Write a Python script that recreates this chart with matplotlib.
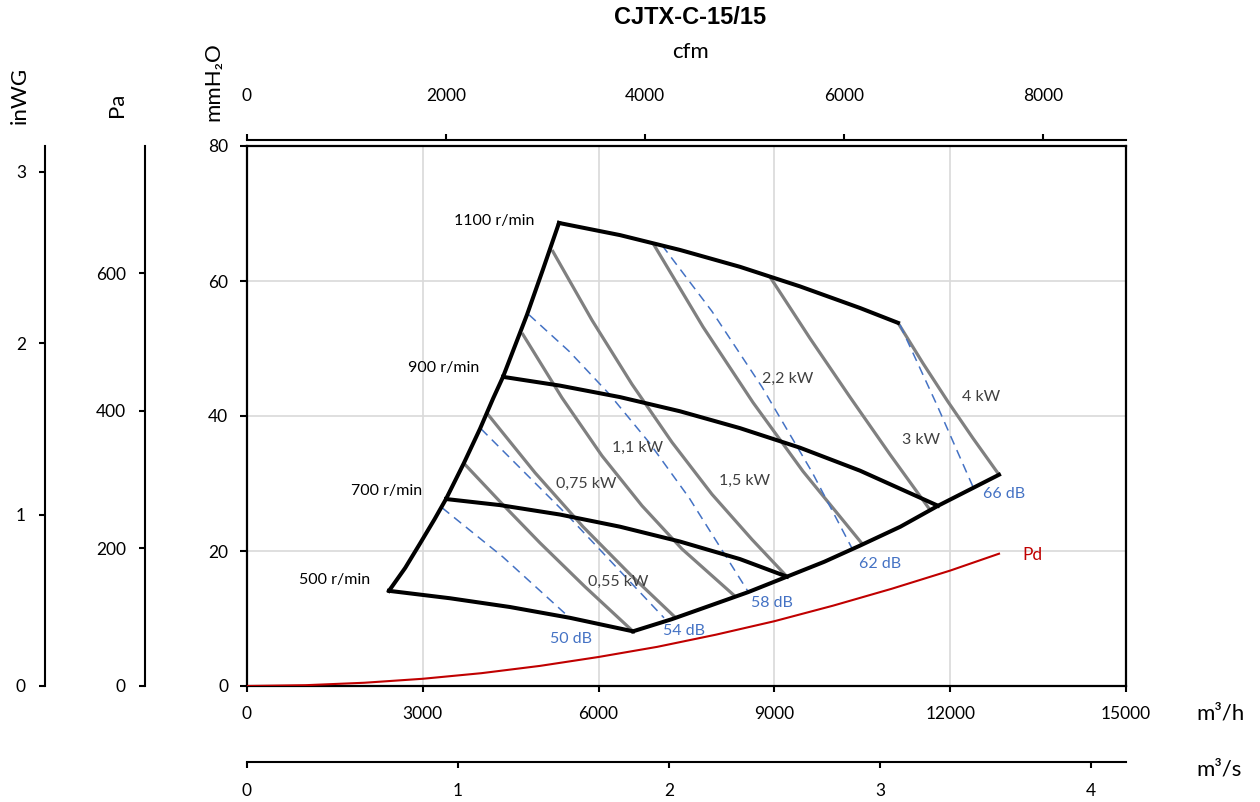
import numpy as np
import matplotlib
matplotlib.use('Agg')
import matplotlib.pyplot as plt

plt.rcParams['font.family'] = ['Lato', 'DejaVu Sans']

# speed curves (m3/h, mmH2O)
n1100_x = [5324, 6365, 7389, 8413, 9437, 10461, 11109]
n1100_y = [68.6, 66.8, 64.6, 62.1, 59.2, 56.0, 53.8]
n900_x = [4369, 5341, 6365, 7389, 8413, 9437, 10461, 11792]
n900_y = [45.8, 44.5, 42.8, 40.7, 38.2, 35.3, 31.9, 26.7]
n700_x = [3396, 4317, 5341, 6365, 7389, 8413, 9215]
n700_y = [27.7, 26.8, 25.4, 23.6, 21.4, 18.8, 16.2]
n500_x = [2423, 3464, 4488, 5512, 6587]
n500_y = [14.1, 13.0, 11.7, 10.1, 8.1]

# limits of the working area
left_x = [2423, 2700, 2952, 3200, 3396, 3700, 3976, 4200, 4369, 4600, 4778, 5050, 5324]
left_y = [14.1, 17.5, 21.1, 24.7, 27.7, 33.0, 38.1, 42.6, 45.8, 51.0, 55.0, 61.7, 68.6]
right_x = [6587, 7250, 7901, 8550, 9215, 9850, 10461, 11150, 11792, 12833]
right_y = [8.1, 9.9, 11.9, 13.9, 16.2, 18.4, 20.8, 23.6, 26.7, 31.3]

# dynamic pressure
pd_x = [0, 1000, 2000, 3000, 4000, 5000, 6000, 7000, 8000, 9000, 10000, 11000, 12000, 12833]
pd_y = [0, 0.12, 0.48, 1.07, 1.9, 2.98, 4.3, 5.8, 7.6, 9.6, 11.9, 14.4, 17.1, 19.6]

# power lines
kw_labels = ['0,55 kW', '0,75 kW', '1,1 kW', '1,5 kW', '2,2 kW', '3 kW', '4 kW']
kw_x = [[3700, 4352, 5000, 5768, 6587],
        [4096, 4915, 5734, 6553, 7304],
        [4693, 5375, 6058, 6741, 7423, 8328],
        [5205, 5887, 6570, 7253, 7935, 8618, 9215],
        [6928, 7782, 8635, 9488, 10495],
        [8925, 9608, 10290, 10973, 11655],
        [11109, 11536, 11963, 12389, 12833]]
kw_y = [[33.0, 27.0, 21.2, 14.7, 8.1],
        [40.4, 31.6, 23.6, 16.4, 10.2],
        [52.3, 42.7, 34.1, 26.7, 20.3, 13.3],
        [64.6, 54.2, 44.7, 36.1, 28.4, 21.7, 16.2],
        [65.6, 53.2, 42.0, 31.8, 21.1],
        [60.6, 51.5, 42.8, 34.3, 26.1],
        [53.8, 47.8, 42.1, 36.7, 31.3]]
kw_lx = [6331, 5785, 6672, 8498, 9232, 11502, 12526]
kw_ly = [15.4, 29.9, 35.3, 30.4, 45.5, 36.4, 42.8]

# sound level lines
db_labels = ['50 dB', '54 dB', '58 dB', '62 dB', '66 dB']
db_x = [[3330, 4369, 5495],
        [3993, 5512, 7116],
        [4812, 5495, 6177, 6860, 7543, 8550],
        [7082, 7935, 8788, 9642, 10324],
        [11143, 11775, 12389]]
db_y = [[26.4, 19.1, 10.2],
        [38.1, 24.9, 10.1],
        [55.0, 49.6, 43.3, 36.1, 27.9, 14.0],
        [65.3, 55.5, 44.3, 31.7, 20.4],
        [53.5, 41.6, 29.5]]
db_lx = [5529, 7457, 8959, 10802, 12918]
db_ly = [7.0, 8.1, 12.3, 18.1, 28.4]

rpm_labels = ['1100 r/min', '900 r/min', '700 r/min', '500 r/min']
rpm_lx = [4215, 3362, 2389, 1502]
rpm_ly = [68.9, 47.1, 28.9, 15.7]

W, H = 1260, 802
fig = plt.figure(figsize=(W / 100, H / 100), dpi=100)
ax = fig.add_axes([247 / W, 116 / H, 879 / W, 540 / H])

ax.set_xlim(0, 15000)
ax.set_ylim(0, 80)
ax.set_xticks(range(0, 15001, 3000))
ax.set_yticks(range(0, 81, 20))
ax.grid(True, color='#d9d9d9', lw=1.2)
ax.set_axisbelow(True)
for s in ax.spines.values():
    s.set_linewidth(1.6)
ax.tick_params(axis='x', direction='out', length=4.3, width=1.5, pad=10, labelsize=12.5)
ax.tick_params(axis='y', direction='out', length=5, width=1.5, pad=8.6, labelsize=12.5)

for xs, ys in zip(kw_x, kw_y):
    ax.plot(xs, ys, color='#808080', lw=2.3, zorder=2, solid_capstyle='butt')
for xs, ys in zip(db_x, db_y):
    ax.plot(xs, ys, color='#4472c4', lw=1.1, dashes=(6, 4), zorder=3)
ax.plot(pd_x, pd_y, color='#c00000', lw=1.5, zorder=3)
for xs, ys in [(n1100_x, n1100_y), (n900_x, n900_y), (n700_x, n700_y),
               (n500_x, n500_y), (left_x, left_y), (right_x, right_y)]:
    ax.plot(xs, ys, color='black', lw=2.9, zorder=4, solid_joinstyle='round')

for s, x, y in zip(kw_labels, kw_lx, kw_ly):
    ax.text(x, y, s, ha='center', va='center', fontsize=11.5, color='#404040', zorder=5)
for s, x, y in zip(db_labels, db_lx, db_ly):
    ax.text(x, y, s, ha='center', va='center', fontsize=11.5, color='#4472c4', zorder=5)
for s, x, y in zip(rpm_labels, rpm_lx, rpm_ly):
    ax.text(x, y, s, ha='center', va='center', fontsize=11.5, color='black', zorder=5)
ax.text(13396, 19.4, 'Pd', ha='center', va='center', fontsize=12.5, color='#c00000')

# extra scales
cfm = ax.secondary_xaxis(1 + 6 / 540, functions=(lambda v: v / 1.699, lambda v: v * 1.699))
cfm.set_xticks([0, 2000, 4000, 6000, 8000])
cfm.tick_params(direction='out', length=4.3, width=1.5, pad=21.5, labelsize=12.5)

m3s = ax.secondary_xaxis(-76 / 540, functions=(lambda v: v / 3600, lambda v: v * 3600))
m3s.set_xticks([0, 1, 2, 3, 4])
m3s.tick_params(direction='out', length=4.3, width=1.5, pad=10.8, labelsize=12.5)

pa = ax.secondary_yaxis(-102 / 879, functions=(lambda v: v * 9.80665, lambda v: v / 9.80665))
pa.set_yticks([0, 200, 400, 600])
pa.tick_params(direction='out', length=4.3, width=1.5, pad=9.4, labelsize=12.5)

inwg = ax.secondary_yaxis(-202 / 879, functions=(lambda v: v / 25.4, lambda v: v * 25.4))
inwg.set_yticks([0, 1, 2, 3])
inwg.tick_params(direction='out', length=4.3, width=1.5, pad=9.4, labelsize=12.5)

for sec in (cfm, m3s, pa, inwg):
    for s in sec.spines.values():
        s.set_linewidth(1.5)

fig.text(690 / W, 1 - 18 / H, 'CJTX-C-15/15', ha='center', va='center',
         fontsize=17, fontweight='bold', family=['Liberation Sans', 'DejaVu Sans'])
fig.text(690 / W, 1 - 52 / H, 'cfm', ha='center', va='center', fontsize=16)
fig.text(1196 / W, 1 - 713 / H, 'm³/h', ha='left', va='center', fontsize=16)
fig.text(1196 / W, 1 - 770 / H, 'm³/s', ha='left', va='center', fontsize=16)
fig.text(20 / W, 1 - 95 / H, 'inWG', ha='center', va='center', fontsize=16, rotation=90)
fig.text(117 / W, 1 - 105 / H, 'Pa', ha='center', va='center', fontsize=16, rotation=90)
fig.text(213 / W, 1 - 82 / H, 'mmH₂O', ha='center', va='center', fontsize=16, rotation=90)

fig.savefig('out.png', dpi=100)
